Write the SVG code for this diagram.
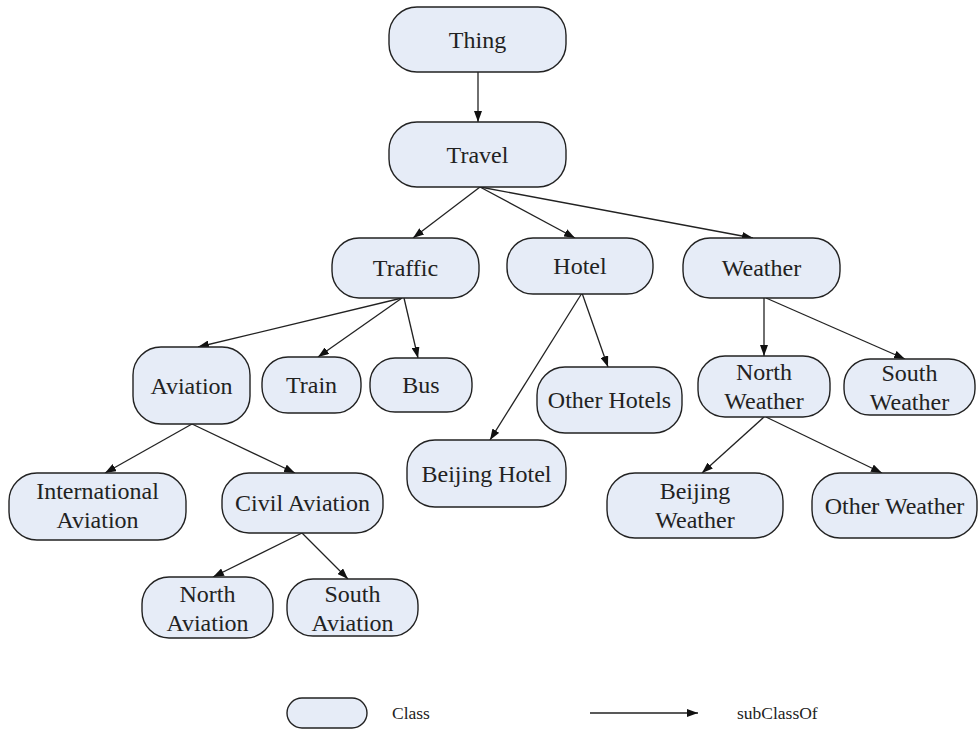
<svg xmlns="http://www.w3.org/2000/svg" width="980" height="730" viewBox="0 0 980 730">
<style>
  .node rect { fill: #E6ECF7; stroke: #222; stroke-width: 1.4; }
  .node text, .lg text { font-family: "Liberation Serif", "Times New Roman", serif; font-size: 24px; fill: #222; text-anchor: middle; }
  .lg text { font-size: 17.5px; text-anchor: start; }
  .edge line { stroke: #222; stroke-width: 1.3; marker-end: url(#arr); }
</style>
<defs>
  <marker id="arr" markerUnits="userSpaceOnUse" markerWidth="11" markerHeight="8" refX="11" refY="4" orient="auto">
    <path d="M0,0 L11,4 L0,8 z" fill="#111"/>
  </marker>
</defs>
<rect width="980" height="730" fill="#fff"/>
<g id="connectors" class="edge">
  <line x1="478" y1="72" x2="478" y2="122"/>
  <line x1="480" y1="187" x2="413" y2="238"/>
  <line x1="480" y1="187" x2="575" y2="238"/>
  <line x1="480" y1="187" x2="753" y2="238"/>
  <line x1="402" y1="298" x2="198" y2="347"/>
  <line x1="402" y1="298" x2="318" y2="357"/>
  <line x1="404" y1="298" x2="418" y2="358"/>
  <line x1="582" y1="293" x2="490" y2="440"/>
  <line x1="582" y1="293" x2="608" y2="367"/>
  <line x1="764" y1="298" x2="764" y2="356"/>
  <line x1="766" y1="298" x2="905" y2="359"/>
  <line x1="192" y1="424" x2="105" y2="473"/>
  <line x1="192" y1="424" x2="295" y2="473"/>
  <line x1="302" y1="533" x2="213" y2="577"/>
  <line x1="302" y1="533" x2="348" y2="579"/>
  <line x1="764" y1="417" x2="702" y2="473"/>
  <line x1="766" y1="417" x2="882" y2="473"/>
</g>
<g id="thing" class="node"><rect x="389" y="7" width="177" height="65" rx="28"/><text x="477.5" y="47.5">Thing</text></g>
<g id="travel" class="node"><rect x="389" y="122" width="177" height="65" rx="28"/><text x="477.5" y="162.5">Travel</text></g>
<g id="traffic" class="node"><rect x="332" y="238" width="147" height="60" rx="27"/><text x="405.5" y="276">Traffic</text></g>
<g id="hotel" class="node"><rect x="507" y="238" width="146" height="56" rx="26"/><text x="580" y="274">Hotel</text></g>
<g id="weather" class="node"><rect x="683" y="238" width="157" height="60" rx="27"/><text x="761.5" y="276">Weather</text></g>
<g id="aviation" class="node"><rect x="133" y="347" width="117" height="77" rx="28"/><text x="191.5" y="393.5">Aviation</text></g>
<g id="train" class="node"><rect x="262" y="357" width="99" height="56" rx="26"/><text x="311.5" y="393">Train</text></g>
<g id="bus" class="node"><rect x="370" y="358" width="102" height="54" rx="25"/><text x="421" y="393">Bus</text></g>
<g id="other-hotels" class="node"><rect x="537" y="367" width="145" height="66" rx="28"/><text x="609.5" y="408">Other Hotels</text></g>
<g id="north-weather" class="node"><rect x="698" y="356" width="132" height="61" rx="27"/><text x="764" y="380">North</text><text x="764" y="409">Weather</text></g>
<g id="south-weather" class="node"><rect x="844" y="359" width="131" height="56" rx="26"/><text x="909.5" y="381">South</text><text x="909.5" y="410">Weather</text></g>
<g id="beijing-hotel" class="node"><rect x="407" y="440" width="159" height="67" rx="28"/><text x="486.5" y="481.5">Beijing Hotel</text></g>
<g id="beijing-weather" class="node"><rect x="607" y="473" width="176" height="65" rx="28"/><text x="695" y="499">Beijing</text><text x="695" y="528">Weather</text></g>
<g id="other-weather" class="node"><rect x="812" y="473" width="165" height="65" rx="28"/><text x="894.5" y="513.5">Other Weather</text></g>
<g id="international-aviation" class="node"><rect x="9" y="473" width="177" height="67" rx="28"/><text x="97.5" y="499">International</text><text x="97.5" y="528">Aviation</text></g>
<g id="civil-aviation" class="node"><rect x="222" y="473" width="161" height="60" rx="27"/><text x="302.5" y="511">Civil Aviation</text></g>
<g id="north-aviation" class="node"><rect x="142" y="577" width="131" height="61" rx="27"/><text x="207.5" y="602">North</text><text x="207.5" y="631">Aviation</text></g>
<g id="south-aviation" class="node"><rect x="287" y="579" width="131" height="57" rx="26"/><text x="352.5" y="602">South</text><text x="352.5" y="631">Aviation</text></g>
<g id="legend" class="lg">
  <g id="legend-class" class="node"><rect x="287" y="698" width="80" height="30" rx="15"/></g>
  <text x="392" y="719">Class</text>
  <g class="edge"><line x1="590" y1="713" x2="698" y2="713"/></g>
  <text x="737" y="719">subClassOf</text>
</g>
</svg>
